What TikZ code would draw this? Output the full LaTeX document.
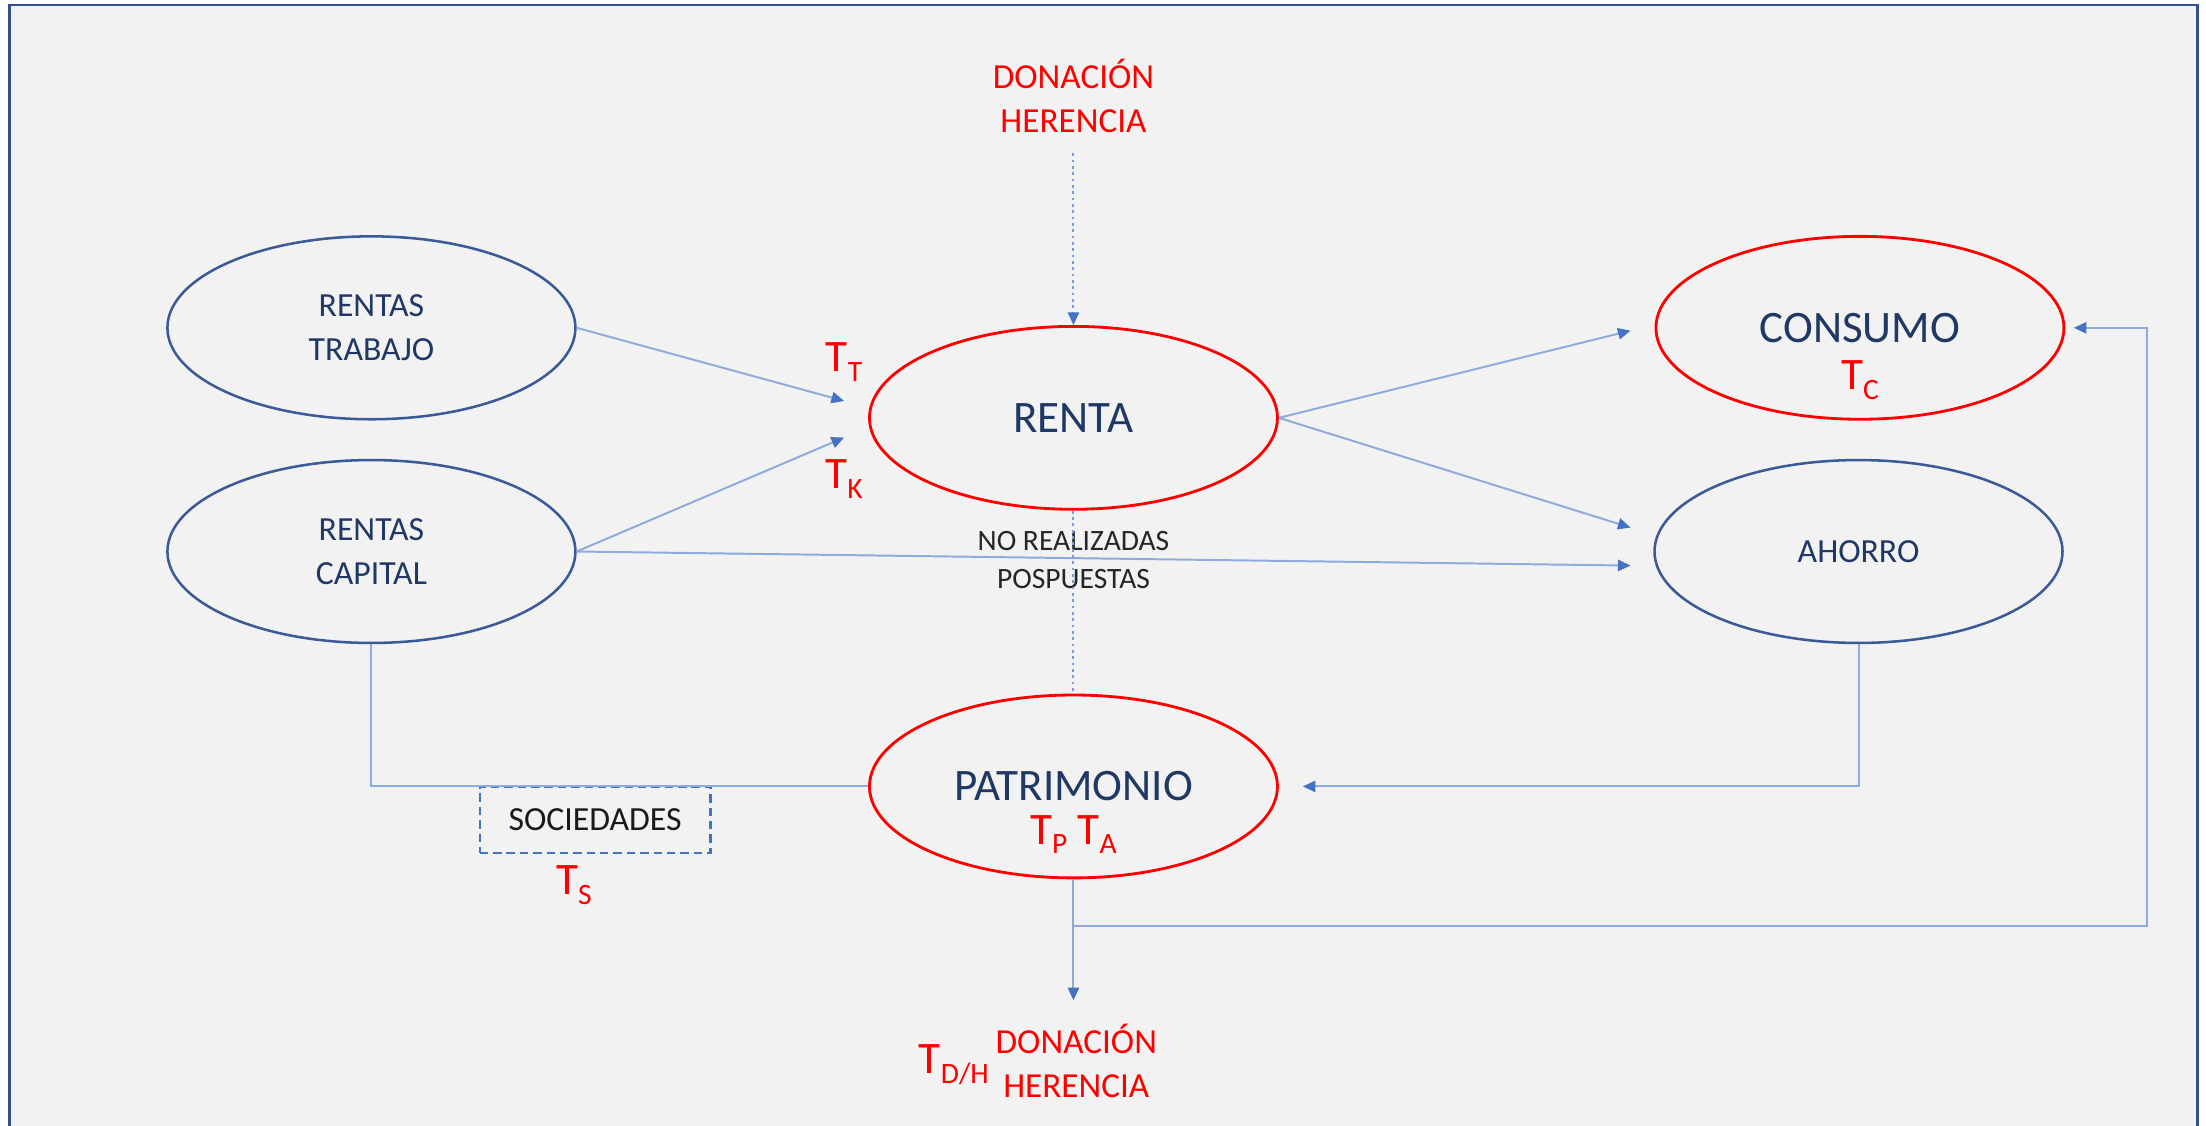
\documentclass[tikz,border=0pt]{standalone}
\usepackage{fontspec}
\setmainfont{Carlito}
\usetikzlibrary{arrows.meta,shapes.geometric}
\definecolor{bgc}{HTML}{F2F2F2}
\definecolor{framec}{HTML}{2F528F}
\definecolor{ovblue}{HTML}{3B5A96}
\definecolor{navy}{HTML}{1F3864}
\definecolor{redc}{HTML}{FF0000}
\definecolor{lineb}{HTML}{8FAADC}
\definecolor{tipb}{HTML}{4472C4}
\definecolor{darktxt}{HTML}{262626}
\newcommand{\Tsb}[1]{T\raisebox{-7pt}{\fontsize{21}{21}\selectfont #1}}
\tikzset{
  oval/.style={ellipse, line width=1.8pt, minimum width=290pt, minimum height=130pt, inner sep=0pt},
  blueoval/.style={oval, draw=ovblue, text=navy, font=\fontsize{24}{31}\selectfont, align=center},
  redoval/.style={oval, draw=redc, line width=2pt, text=navy, font=\fontsize{32}{38}\selectfont},
  conn/.style={draw=lineb, line width=1.4pt},
  arr/.style={conn, -{Triangle[length=9pt,width=8pt,color=tipb]}},
  dotc/.style={draw=lineb!75!tipb, line width=1.4pt, dash pattern=on 2pt off 2.5pt},
  tlab/.style={text=redc, font=\fontsize{32}{32}\selectfont, anchor=base, inner sep=0pt},
  redline/.style={text=redc, font=\fontsize{25}{31}\selectfont, anchor=base, inner sep=0pt},
  grayline/.style={text=darktxt, font=\fontsize{21}{27}\selectfont, anchor=base, inner sep=0pt},
  socbox/.style={draw=tipb, line width=1.5pt, dash pattern=on 6pt off 3.5pt, minimum width=164pt, minimum height=47pt, inner sep=0pt, text=black!90, font=\fontsize{24}{30}\selectfont}
}
\begin{document}
\begin{tikzpicture}[x=1pt,y=-1pt]
\useasboundingbox (0,0) rectangle (1568,800);
\fill[white] (0,0) rectangle (1568,800);
\draw[framec, line width=2pt, fill=bgc] (6.5,3.5) rectangle (1562,830);

% ovals
\node[blueoval] (rt) at (264,233) {RENTAS\\TRABAJO};
\node[blueoval] (rc) at (264,392) {RENTAS\\CAPITAL};
\node[redoval] (renta) at (763,297) {RENTA};
\node[redoval] (cons) at (1322,233) {CONSUMO};
\node[blueoval] (ahorro) at (1321,392) {AHORRO};
\node[redoval] (patr) at (763,559) {PATRIMONIO};

% texts
\node[redline] (dtop1) at (763,63) {DONACIÓN};
\node[redline] (dtop2) at (763,94) {HERENCIA};
\node[redline] (dbot1) at (765,749) {DONACIÓN};
\node[redline] (dbot2) at (765,780) {HERENCIA};
\node[grayline] (nr1) at (763,391) {NO REALIZADAS};
\node[grayline] (nr2) at (763,418) {POSPUESTAS};
\node[socbox] (soc) at (423,582.5) {SOCIEDADES};

\node[tlab] (tt) at (600,264) {\Tsb{T}};
\node[tlab] (tk) at (600,347) {\Tsb{K}};
\node[tlab] (tc) at (1322,277) {\Tsb{C}};
\node[tlab] (tpa) at (763,600) {\Tsb{P} \Tsb{A}};
\node[tlab] (ts) at (408,636) {\Tsb{S}};
\node[tlab] (tdh) at (678,763) {\Tsb{D/H}};

% coordinates
\coordinate (inT) at (600,285);
\coordinate (inK) at (600,311);
\coordinate (inAh) at (1159,402);
\coordinate (inC) at (1159,235);
\coordinate (inA2) at (1159,375);
\coordinate (outD) at (763,711);
\coordinate (br) at (763,658);
\coordinate (rr) at (1526,658);

% connectors
\draw[arr] (rt.east) -- (inT);
\draw[arr] (rc.east) -- (inK);
\draw[arr] (rc.east) -- (inAh);
\draw[arr] (renta.east) -- (inC);
\draw[arr] (renta.east) -- (inA2);
\draw[conn] (rc.south) |- (patr.west);
\draw[arr] (ahorro.south) |- ([xshift=17pt]patr.east);
\draw[arr] (patr.south) -- (outD);
\draw[arr] (br) -- (rr) |- ([xshift=6pt]cons.east);
\draw[dotc, -{Triangle[length=9pt,width=8pt,color=tipb]}] ([yshift=-15pt]dtop2.base) -- (renta.north);
\draw[dotc] (renta.south) -- (patr.north);
\end{tikzpicture}
\end{document}
